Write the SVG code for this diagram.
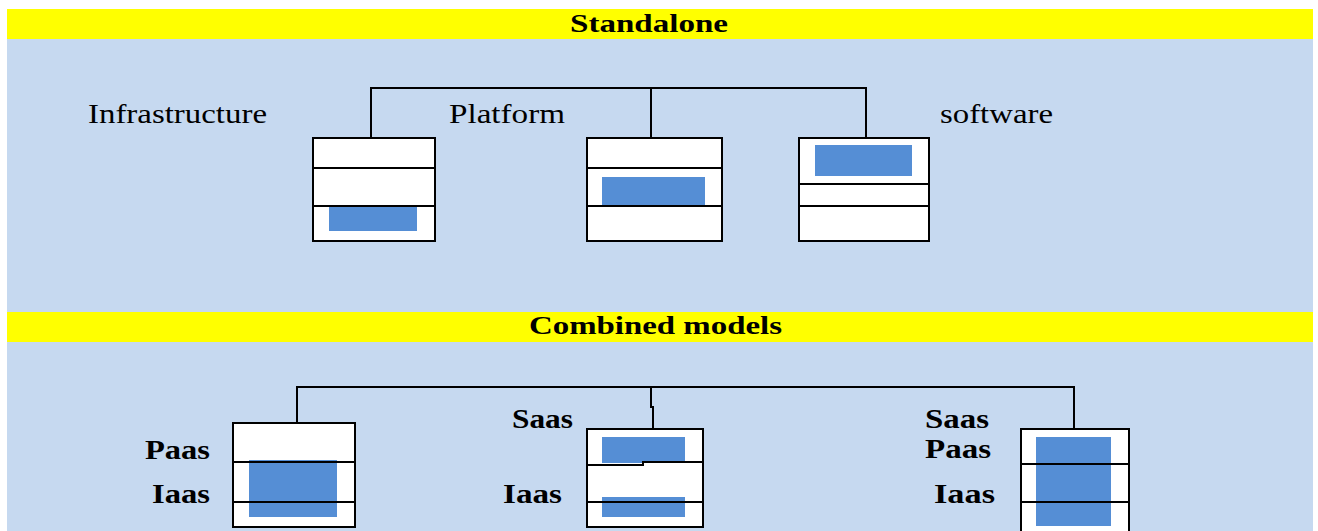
<svg xmlns="http://www.w3.org/2000/svg" width="1318" height="531" viewBox="0 0 1318 531">
  <style>
    .band { fill: #FFFF00; }
    .panel { fill: #C6D9F0; }
    .box { fill: #FFFFFF; stroke: #000000; stroke-width: 2; }
    .div { stroke: #000000; stroke-width: 2; fill: none; }
    .fill { fill: #558ED5; }
    .conn { stroke: #000000; stroke-width: 2; fill: none; }
    .title { font-family: "Liberation Serif", "Times New Roman", serif; font-weight: bold; font-size: 25px; fill: #000; }
    .lbl { font-family: "Liberation Serif", "Times New Roman", serif; font-size: 28px; fill: #000; }
    .blbl { font-family: "Liberation Serif", "Times New Roman", serif; font-weight: bold; font-size: 27px; fill: #000; }
  </style>

  <rect x="0" y="0" width="1318" height="531" fill="#FFFFFF"/>

  <g id="section-standalone">
    <rect class="band" x="7" y="9" width="1306" height="30"/>
    <rect class="panel" x="7" y="39" width="1306" height="273"/>
    <text class="title" x="570" y="32" textLength="158" lengthAdjust="spacingAndGlyphs">Standalone</text>
  </g>

  <g id="section-combined">
    <rect class="band" x="7" y="312" width="1306" height="30"/>
    <rect class="panel" x="7" y="342" width="1306" height="189"/>
    <text class="title" x="529" y="334" textLength="253" lengthAdjust="spacingAndGlyphs">Combined models</text>
  </g>

  <g id="connectors">
    <path class="conn" d="M371,138 V88 H866 V138 M651,88 V138"/>
    <path class="conn" d="M297,423 V387 H1074 V429 M651,387 V407 H653 V429"/>
  </g>

  <g id="label-infrastructure">
    <text class="lbl" x="88" y="123" textLength="179" lengthAdjust="spacingAndGlyphs">Infrastructure</text>
  </g>
  <g id="label-platform">
    <text class="lbl" x="449" y="123" textLength="116" lengthAdjust="spacingAndGlyphs">Platform</text>
  </g>
  <g id="label-software">
    <text class="lbl" x="940" y="123" textLength="113" lengthAdjust="spacingAndGlyphs">software</text>
  </g>

  <g id="node-infrastructure">
    <rect class="box" x="313" y="138" width="122" height="103"/>
    <line class="div" x1="313" y1="168" x2="435" y2="168"/>
    <line class="div" x1="313" y1="206" x2="435" y2="206"/>
    <rect class="fill" x="329" y="207" width="88" height="24"/>
  </g>

  <g id="node-platform">
    <rect class="box" x="587" y="138" width="135" height="103"/>
    <line class="div" x1="587" y1="168" x2="722" y2="168"/>
    <rect class="fill" x="602" y="177" width="103" height="29"/>
    <line class="div" x1="587" y1="206" x2="722" y2="206"/>
  </g>

  <g id="node-software">
    <rect class="box" x="799" y="138" width="130" height="103"/>
    <rect class="fill" x="815" y="145" width="97" height="31"/>
    <line class="div" x1="799" y1="184" x2="929" y2="184"/>
    <line class="div" x1="799" y1="206" x2="929" y2="206"/>
  </g>

  <g id="node-paas-iaas">
    <rect class="box" x="233" y="423" width="122" height="104"/>
    <rect class="fill" x="249" y="460" width="88" height="57"/>
    <line class="div" x1="233" y1="462" x2="355" y2="462"/>
    <line class="div" x1="233" y1="502" x2="355" y2="502"/>
    <text class="blbl" x="145" y="459" textLength="65" lengthAdjust="spacingAndGlyphs">Paas</text>
    <text class="blbl" x="152" y="503" textLength="58" lengthAdjust="spacingAndGlyphs">Iaas</text>
  </g>

  <g id="node-saas-iaas">
    <rect class="box" x="587" y="429" width="116" height="98"/>
    <rect class="fill" x="602" y="437" width="83" height="26"/>
    <rect class="fill" x="602" y="497" width="83" height="20"/>
    <path class="div" d="M587,465 H643 V462 H703"/>
    <line class="div" x1="587" y1="502" x2="703" y2="502"/>
    <text class="blbl" x="512" y="428" textLength="61" lengthAdjust="spacingAndGlyphs">Saas</text>
    <text class="blbl" x="503" y="503" textLength="59" lengthAdjust="spacingAndGlyphs">Iaas</text>
  </g>

  <g id="node-saas-paas-iaas">
    <rect class="box" x="1021" y="429" width="108" height="110"/>
    <rect class="fill" x="1036" y="437" width="75" height="89"/>
    <line class="div" x1="1021" y1="464" x2="1129" y2="464"/>
    <line class="div" x1="1021" y1="502" x2="1129" y2="502"/>
    <text class="blbl" x="925" y="428" textLength="64" lengthAdjust="spacingAndGlyphs">Saas</text>
    <text class="blbl" x="925" y="458" textLength="66" lengthAdjust="spacingAndGlyphs">Paas</text>
    <text class="blbl" x="934" y="503" textLength="61" lengthAdjust="spacingAndGlyphs">Iaas</text>
  </g>
</svg>
